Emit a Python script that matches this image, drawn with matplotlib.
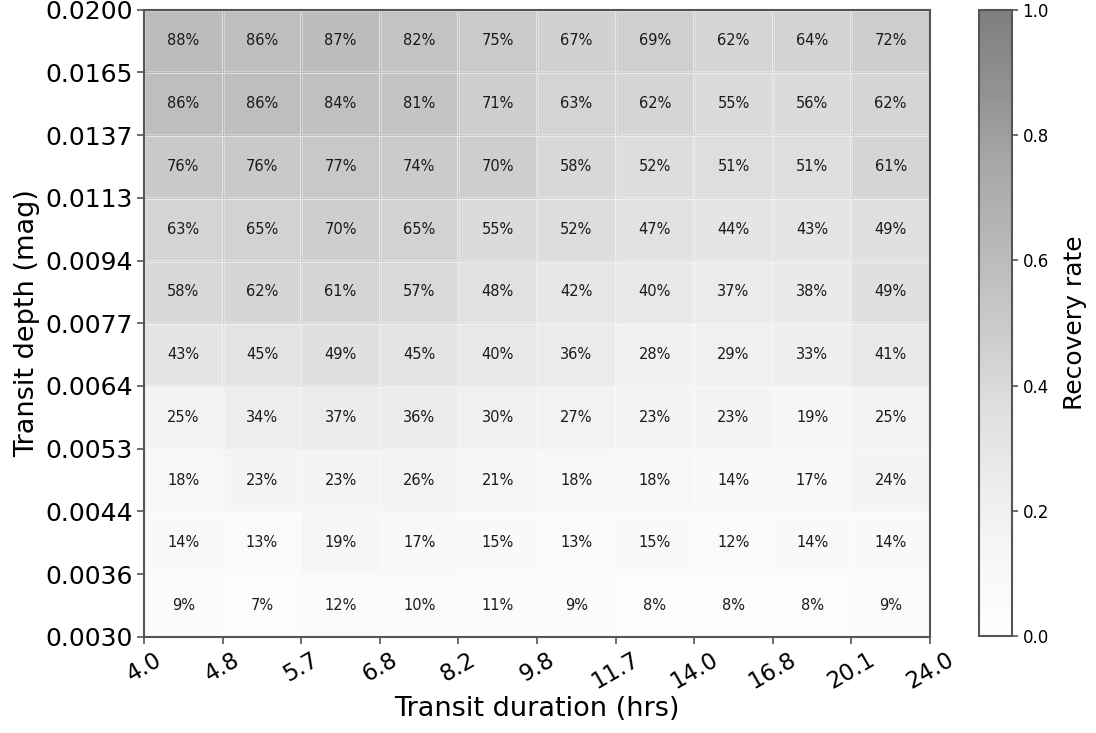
import numpy as np
import matplotlib
matplotlib.use('Agg')
import matplotlib.pyplot as plt
from matplotlib import cm, colors

# bin edges
duration_edges = ['4.0', '4.8', '5.7', '6.8', '8.2', '9.8', '11.7', '14.0', '16.8', '20.1', '24.0']
depth_edges = ['0.0030', '0.0036', '0.0044', '0.0053', '0.0064', '0.0077',
               '0.0094', '0.0113', '0.0137', '0.0165', '0.0200']

# recovery rate (%) per depth bin, listed from shallowest to deepest
rate_0030 = [9, 7, 12, 10, 11, 9, 8, 8, 8, 9]
rate_0036 = [14, 13, 19, 17, 15, 13, 15, 12, 14, 14]
rate_0044 = [18, 23, 23, 26, 21, 18, 18, 14, 17, 24]
rate_0053 = [25, 34, 37, 36, 30, 27, 23, 23, 19, 25]
rate_0064 = [43, 45, 49, 45, 40, 36, 28, 29, 33, 41]
rate_0077 = [58, 62, 61, 57, 48, 42, 40, 37, 38, 49]
rate_0094 = [63, 65, 70, 65, 55, 52, 47, 44, 43, 49]
rate_0113 = [76, 76, 77, 74, 70, 58, 52, 51, 51, 61]
rate_0137 = [86, 86, 84, 81, 71, 63, 62, 55, 56, 62]
rate_0165 = [88, 86, 87, 82, 75, 67, 69, 62, 64, 72]

rates = np.array([rate_0030, rate_0036, rate_0044, rate_0053, rate_0064,
                  rate_0077, rate_0094, rate_0113, rate_0137, rate_0165]) / 100.0

edge_col = '#555555'

fig = plt.figure(figsize=(10.96, 7.33), dpi=100)
ax = fig.add_axes([0.1315, 0.131, 0.717, 0.856])
cax = fig.add_axes([0.8935, 0.132, 0.030, 0.855])

norm = colors.Normalize(vmin=0, vmax=1)
xe = np.arange(len(duration_edges))
ye = np.arange(len(depth_edges))
ax.pcolormesh(xe, ye, rates, cmap='Greys', norm=norm, alpha=0.3,
              edgecolors=(1, 1, 1, 0.35), linewidth=0.8)

for i in range(rates.shape[0]):
    for j in range(rates.shape[1]):
        ax.text(j + 0.5, i + 0.5, f'{rates[i, j] * 100:.0f}%',
                ha='center', va='center', fontsize=10.5, color='#1a1a1a')

ax.set_xlim(0, len(duration_edges) - 1)
ax.set_ylim(0, len(depth_edges) - 1)
ax.set_xticks(xe)
ax.set_xticklabels(duration_edges, rotation=30, fontsize=16.5)
ax.set_yticks(ye)
ax.set_yticklabels(depth_edges, fontsize=18)
ax.set_xlabel('Transit duration (hrs)', fontsize=19.5, labelpad=2)
ax.set_ylabel('Transit depth (mag)', fontsize=19.5, labelpad=4)
ax.tick_params(color=edge_col, length=5, width=1.2, pad=3)
for sp in ax.spines.values():
    sp.set_color(edge_col)
    sp.set_linewidth(1.5)

sm = cm.ScalarMappable(norm=norm, cmap='Greys')
cb = fig.colorbar(sm, cax=cax, alpha=0.5)
cb.set_ticks([0, 0.2, 0.4, 0.6, 0.8, 1.0])
cb.ax.tick_params(labelsize=12, color=edge_col, length=4, width=1.2)
cb.outline.set_edgecolor(edge_col)
cb.outline.set_linewidth(1.5)
cb.set_label('Recovery rate', fontsize=18, labelpad=10)

fig.savefig('out.png', dpi=100)
